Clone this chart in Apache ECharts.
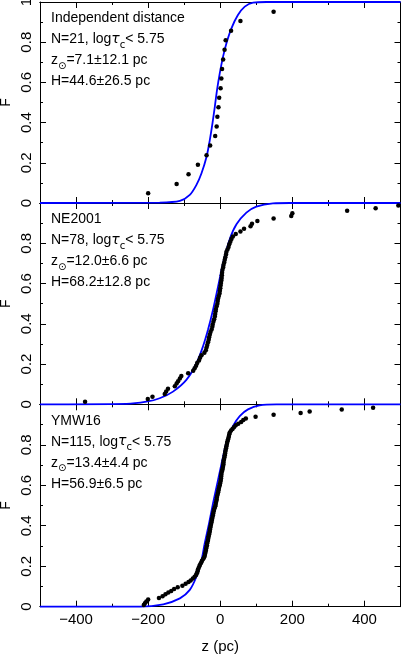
<!DOCTYPE html>
<html>
<head>
<meta charset="utf-8">
<script src="https://cdn.jsdelivr.net/npm/echarts@6/dist/echarts.min.js"></script>
<style>
  html, body { margin: 0; padding: 0; background: #fff; }
  #main { width: 403px; height: 654px; }
</style>
</head>
<body>
<div id="main"></div>
<script>
// panel texts
var panelNames = ['Independent distance', 'NE2001', 'YMW16'];
var nCounts = [21, 78, 115];
var zSun = ['7.1±12.1', '12.0±6.6', '13.4±4.4'];
var scaleH = ['44.6±26.5', '68.2±12.8', '56.9±6.5'];

var xMajor = [-400, -200, 0, 200, 400];
var xMinor = [-300, -100, 100, 300];

// model curves
var curveZ1 = [-500, -168, -112, -84.5, -66, -52, -38, -29, -21.6, -15, -9, -1.4, 7.8, 17, 31, 49, 68, 91, 128, 500];
var curveF1 = [0, 0.002, 0.01, 0.04, 0.09, 0.148, 0.23, 0.313, 0.396, 0.48, 0.562, 0.645, 0.728, 0.794, 0.869, 0.935, 0.977, 0.997, 1, 1];
var curveZ2 = [-500, -260, -205, -168, -131, -94, -66, -48, -34, -20, -6, 8, 26, 45, 72.5, 100, 146, 193, 500];
var curveF2 = [0, 0.002, 0.013, 0.03, 0.063, 0.121, 0.204, 0.287, 0.37, 0.47, 0.586, 0.703, 0.819, 0.894, 0.952, 0.982, 0.998, 1, 1];
var curveZ3 = [-500, -223, -158, -112, -84.5, -66, -52, -43, -31, -20, -6, 6, 17, 35.5, 54, 77, 109, 156, 500];
var curveF3 = [0, 0, 0.012, 0.041, 0.083, 0.149, 0.231, 0.314, 0.413, 0.512, 0.628, 0.727, 0.81, 0.893, 0.942, 0.975, 0.995, 1, 1];

// pulsar cumulative points
var dotZ1 = [-200, -121, -88, -62, -38, -28, -14, -10, -8, -5, -3, 1, 3, 5, 8, 12, 15, 30, 56, 148];
var dotF1 = [0.048, 0.095, 0.143, 0.19, 0.238, 0.286, 0.333, 0.381, 0.429, 0.476, 0.524, 0.571, 0.619, 0.667, 0.714, 0.762, 0.81, 0.857, 0.905, 0.952];

var dotZ2 = [-375, -201, -188, -154, -150, -145, -126, -121, -117, -112, -108, -89, -75, -71, -67, -64, -59, -56, -52, -44,
  -40, -38, -36, -34, -32, -31, -29, -27, -24, -22, -21, -19, -17, -15, -14, -13, -12, -10, -8, -7,
  -6, -4, -2, -1, 0, 1, 2, 3, 4, 4.5, 5, 6, 8, 9, 11, 12.5, 14, 16, 17, 20,
  23, 25, 28, 31, 35, 43, 56, 66, 84, 88, 103, 148, 197, 200, 352, 431, 494];
var dotF2 = [0.013, 0.026, 0.038, 0.051, 0.064, 0.077, 0.09, 0.103, 0.115, 0.128, 0.141, 0.154, 0.167, 0.179, 0.192, 0.205, 0.218, 0.231, 0.244, 0.256,
  0.269, 0.282, 0.295, 0.308, 0.321, 0.333, 0.346, 0.359, 0.372, 0.385, 0.397, 0.41, 0.423, 0.436, 0.449, 0.462, 0.474, 0.487, 0.5, 0.513,
  0.526, 0.538, 0.551, 0.564, 0.577, 0.59, 0.603, 0.615, 0.628, 0.641, 0.654, 0.667, 0.679, 0.692, 0.705, 0.718, 0.731, 0.744, 0.756, 0.769,
  0.782, 0.795, 0.808, 0.821, 0.833, 0.846, 0.859, 0.872, 0.885, 0.897, 0.91, 0.923, 0.936, 0.949, 0.962, 0.974, 0.987];

var dotZ3 = [-212, -209, -205, -200, -170, -160, -152, -144, -136, -128, -118, -105, -96, -88, -82, -76, -71, -67, -65, -63,
  -62, -60, -58, -56, -53, -51, -48, -45, -43, -42, -41, -40, -39, -38, -37, -36.5, -35, -34, -33, -32.5,
  -31, -30, -29, -28.5, -27.5, -26.5, -25.5, -24.5, -23.5, -22.5, -21.5, -20.5, -19.5, -18.5, -17.5, -16, -14, -13, -12, -11,
  -10, -9.5, -8.5, -7, -6, -5, -4, -3, -1.5, -0.5, 0.5, 1.5, 2, 2.5, 3, 3.5, 5, 6, 7, 8,
  8.5, 9, 9.5, 10.5, 11.5, 12.5, 13.5, 14, 15, 16, 17, 18, 19, 20, 21.5, 23, 24, 25, 26.5, 30,
  34, 38, 43, 50, 58, 64, 71, 98, 148, 223, 248, 337, 424];
var dotF3 = [0.009, 0.017, 0.026, 0.035, 0.043, 0.052, 0.061, 0.07, 0.078, 0.087, 0.096, 0.104, 0.113, 0.122, 0.13, 0.139, 0.148, 0.157, 0.165, 0.174,
  0.183, 0.191, 0.2, 0.209, 0.217, 0.226, 0.235, 0.243, 0.252, 0.261, 0.27, 0.278, 0.287, 0.296, 0.304, 0.313, 0.322, 0.33, 0.339, 0.348,
  0.357, 0.365, 0.374, 0.383, 0.391, 0.4, 0.409, 0.417, 0.426, 0.435, 0.443, 0.452, 0.461, 0.47, 0.478, 0.487, 0.496, 0.504, 0.513, 0.522,
  0.53, 0.539, 0.548, 0.557, 0.565, 0.574, 0.583, 0.591, 0.6, 0.609, 0.617, 0.626, 0.635, 0.643, 0.652, 0.661, 0.67, 0.678, 0.687, 0.696,
  0.704, 0.713, 0.722, 0.73, 0.739, 0.748, 0.757, 0.765, 0.774, 0.783, 0.791, 0.8, 0.809, 0.817, 0.826, 0.835, 0.843, 0.852, 0.861, 0.87,
  0.878, 0.887, 0.896, 0.904, 0.913, 0.922, 0.93, 0.939, 0.948, 0.957, 0.965, 0.974, 0.983];

var curvesZ = [curveZ1, curveZ2, curveZ3];
var curvesF = [curveF1, curveF2, curveF3];
var dotsZ = [dotZ1, dotZ2, dotZ3];
var dotsF = [dotF1, dotF2, dotF3];

var FONT = 'Liberation Sans, Arial, sans-serif';
var gridTop = [2, 203, 404.3];
var gridH = [201, 201.3, 202.4];

function zip(a, b) {
  return a.map(function (v, i) { return [v, b[i]]; });
}

function xAx(g, pos, ticks, len, labels) {
  return {
    type: 'value', gridIndex: g, position: pos, min: -500, max: 500,
    axisLine: { show: true, onZero: false, lineStyle: { color: '#000', width: 1 } },
    axisTick: { show: true, inside: true, length: len, customValues: ticks, lineStyle: { color: '#000', width: 1 } },
    axisLabel: {
      show: labels, customValues: ticks, fontSize: 15, color: '#000', fontFamily: FONT, margin: 6,
      formatter: function (v) { return String(v).replace('-', '\u2212'); }
    },
    splitLine: { show: false },
    name: labels ? 'z (pc)' : '', nameLocation: 'middle', nameGap: 33,
    nameTextStyle: { fontSize: 15, color: '#000', fontFamily: FONT }
  };
}

function yAx(g, pos, labels) {
  return {
    type: 'value', gridIndex: g, position: pos, min: 0, max: 1, interval: 0.2,
    axisLine: { show: true, onZero: false, lineStyle: { color: '#000', width: 1 } },
    axisTick: { show: true, inside: true, length: 6, lineStyle: { color: '#000', width: 1 } },
    minorTick: { show: true, splitNumber: 2, length: 3, lineStyle: { color: '#000', width: 1 } },
    axisLabel: {
      show: labels, rotate: 90, fontSize: 15, color: '#000', fontFamily: FONT, margin: 6,
      formatter: function (v) { return (g > 0 && v === 1) ? '' : String(v); }
    },
    splitLine: { show: false },
    minorSplitLine: { show: false },
    name: labels ? 'F' : '', nameLocation: 'middle', nameRotate: 90, nameGap: 27, nameMoveOverlap: false,
    nameTextStyle: { fontSize: 14, color: '#000', fontFamily: FONT }
  };
}

var grids = [], xAxes = [], yAxes = [], series = [], titles = [];
for (var g = 0; g < 3; g++) {
  grids.push({ left: 40, top: gridTop[g], width: 360.5, height: gridH[g], outerBoundsMode: 'none', containLabel: false });
  var xi = xAxes.length;
  xAxes.push(xAx(g, 'bottom', xMajor, 6, g === 2));
  xAxes.push(xAx(g, 'bottom', xMinor, 3, false));
  xAxes.push(xAx(g, 'top', xMajor, 6, false));
  xAxes.push(xAx(g, 'top', xMinor, 3, false));
  var yi = yAxes.length;
  yAxes.push(yAx(g, 'left', true));
  yAxes.push(yAx(g, 'right', false));

  series.push({
    type: 'line', xAxisIndex: xi, yAxisIndex: yi,
    data: zip(curvesZ[g], curvesF[g]),
    showSymbol: false, smooth: 0.3, clip: false, silent: true, z: 3,
    lineStyle: { color: '#0000ff', width: 1.8 }
  });
  series.push({
    type: 'scatter', xAxisIndex: xi, yAxisIndex: yi,
    data: zip(dotsZ[g], dotsF[g]),
    symbolSize: 4.5, itemStyle: { color: '#000', opacity: 1 }, z: 4, silent: true
  });

  titles.push({
    left: 51, top: gridTop[g] + 6, padding: 0,
    text: '{a|' + panelNames[g] + '}\n' +
      '{a|N=' + nCounts[g] + ', log}{t|\u03c4}{s|c}{a|< 5.75}\n' +
      '{a|z}{s|\u2299}{a|=' + zSun[g] + ' pc}\n' +
      '{a|H=' + scaleH[g] + ' pc}',
    textStyle: {
      fontWeight: 'normal',
      rich: {
        a: { fontSize: 14, lineHeight: 21, color: '#000', fontFamily: FONT, fontWeight: 'normal' },
        t: { fontSize: 14, lineHeight: 21, color: '#000', fontFamily: 'DejaVu Sans', fontStyle: 'italic', fontWeight: 'normal' },
        s: { fontSize: 10, lineHeight: 12, color: '#000', fontFamily: 'DejaVu Sans', verticalAlign: 'bottom', fontWeight: 'normal' }
      }
    }
  });
}

var chart = echarts.init(document.getElementById('main'));
chart.setOption({
  animation: false,
  backgroundColor: '#fff',
  title: titles,
  grid: grids,
  xAxis: xAxes,
  yAxis: yAxes,
  series: series
});
</script>
</body>
</html>
